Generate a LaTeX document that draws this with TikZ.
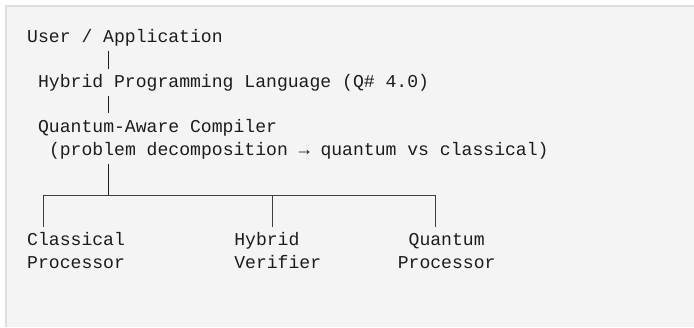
\documentclass[tikz,border=0pt]{standalone}
\usepackage{fontspec}
\setmonofont{Liberation Mono}
\usepackage{tikz}
\usetikzlibrary{positioning,calc}
\definecolor{codebg}{HTML}{F4F4F4}
\definecolor{codeedge}{HTML}{DEDEDE}
\definecolor{codeink}{HTML}{1C1C1C}

\begin{document}
\begin{tikzpicture}[
x=1pt, y=-1pt,
code-line/.style = {anchor=base west, inner sep=0pt, text=codeink, align=left,
  font=\ttfamily\fontsize{18.1}{22.6}\selectfont},
ascii-pipe/.style = {draw=codeink, line width=1.2pt},
tree-line/.style = {draw=codeink!85, line width=1pt}
]

% code block frame
\useasboundingbox (0,0) rectangle (694,327);
\fill[codebg] (5,5) rectangle (694,327);
\draw[codeedge, line width=2pt] (6,327) -- (6,6) -- (694,6);

% text lines
\node [code-line] (user) at (27, 42) {User / Application};
\node [code-line] (lang) at (37.9, 87.2) {Hybrid Programming Language (Q\# 4.0)};
\node [code-line] (compiler) at (37.9, 132.4) {Quantum-Aware Compiler};
\node [code-line] (decomp) at (48.8, 155) {(problem decomposition → quantum vs classical)};
% two-line boxes: base is the last line
\node [code-line] (classical) at (27, 268) {Classical\\Processor};
\node [code-line] (verifier) at (234.1, 268) {Hybrid\\Verifier};
\node [code-line, align=center] (quantum) at (397.6, 268) {\phantom{P}Quantum\phantom{r}\\Processor};

% branch points
\coordinate (trunk) at (108.75, 0);
\coordinate (split) at (108.75, 195);
\coordinate (left) at (43.35, 195);
\coordinate (mid) at (272.25, 195);
\coordinate (right) at (435.75, 195);

% pipes
\draw[ascii-pipe] ([yshift=-9pt]user.base -| trunk) -- ([yshift=18.2pt]lang.base -| trunk);
\draw[ascii-pipe] ([yshift=-9pt]lang.base -| trunk) -- ([yshift=19.4pt]compiler.base -| trunk);
\draw[ascii-pipe] ([yshift=-8.5pt]decomp.base -| trunk) -- (split);

% tree
\draw[tree-line] (left) -- (right);
\draw[tree-line] (left) -- ([yshift=41pt]classical.base -| left);
\draw[tree-line] (mid) -- ([yshift=41pt]verifier.base -| mid);
\draw[tree-line] (right) -- ([yshift=41pt]quantum.base -| right);

\end{tikzpicture}
\end{document}
